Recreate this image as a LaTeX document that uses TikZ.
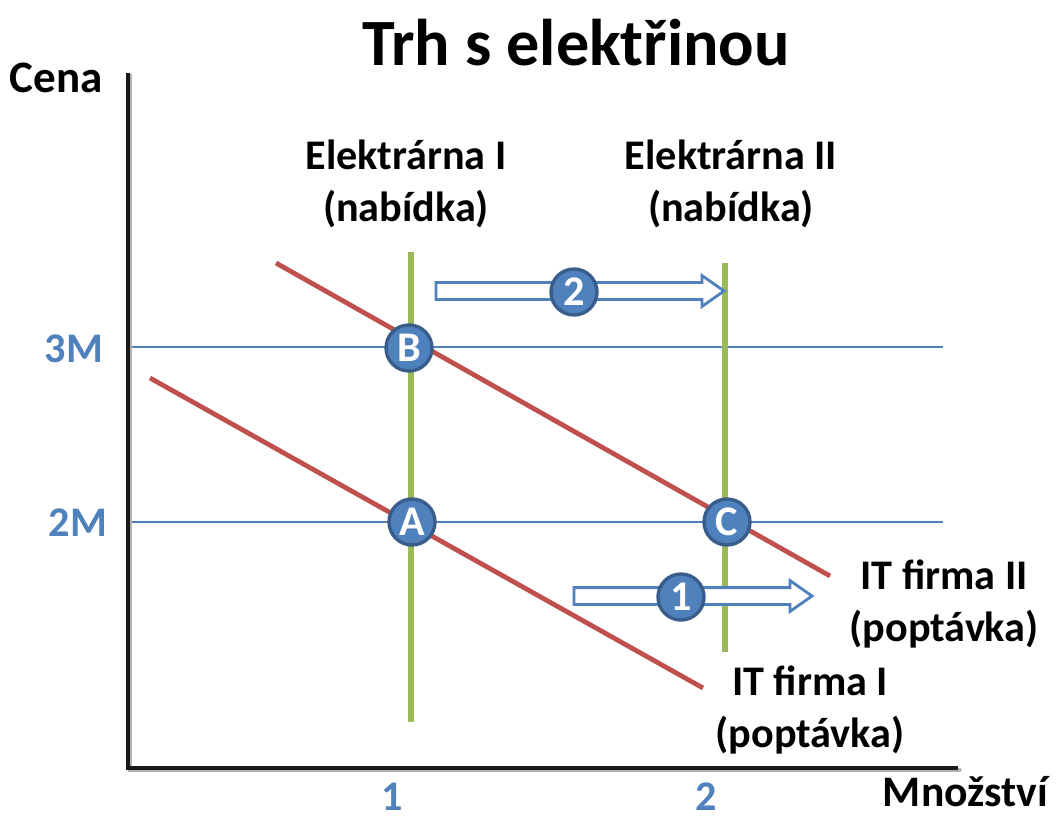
\documentclass[tikz,border=0pt]{standalone}
\usepackage{fontspec}
\setmainfont{Carlito}
\usetikzlibrary{shapes.arrows}
\definecolor{levelblue}{HTML}{4F81BD}
\definecolor{pointedge}{HTML}{385D8A}
\definecolor{supplygreen}{HTML}{9BBB59}
\definecolor{demandred}{HTML}{C0504D}

\begin{document}
\begin{tikzpicture}[x=0.025cm,y=-0.025cm,
  point/.style={circle,fill=levelblue,draw=pointedge,line width=2.4pt,
    minimum size=1.15cm,inner sep=0pt,text=white,
    font=\fontsize{30}{30}\selectfont\bfseries},
  shift arrow/.style={single arrow,draw=levelblue,fill=white,line width=2pt,
    inner sep=0pt,inner ysep=0.175cm,single arrow head extend=0.175cm,
    single arrow tip angle=70,single arrow head indent=0pt},
  curvelabel/.style={align=center,font=\fontsize{30}{37}\selectfont\bfseries},
  ticklabel/.style={text=levelblue,font=\fontsize{30}{36}\selectfont\bfseries},
  supply/.style={supplygreen,line width=4.3pt},
  demand/.style={demandred,line width=3.4pt},
  level/.style={levelblue,line width=0.9pt}]
  % Configurable parameters (pixel units)
  \def\xone{411}      % Elektrarna I
  \def\xtwo{725}      % Elektrarna II
  \def\ythree{347}    % 3M
  \def\ytwo{522}      % 2M
  %
  \useasboundingbox (0,0) rectangle (1058,820);
  %
  % Title and axis names
  \node[font=\fontsize{47}{47}\selectfont\bfseries] (title) at (576,43) {Trh s elektřinou};
  \node[font=\fontsize{32}{32}\selectfont\bfseries] (cena) at (56,78) {Cena};
  \node[font=\fontsize{31}{31}\selectfont\bfseries,anchor=east,inner sep=0pt] (mnozstvi) at (1048,792) {Množství};
  %
  % Price levels
  \coordinate (l3a) at (128,\ythree);
  \coordinate (l3b) at (943,\ythree);
  \coordinate (l2a) at (128,\ytwo);
  \coordinate (l2b) at (943,\ytwo);
  \draw[level] (l3a) -- (l3b);
  \draw[level] (l2a) -- (l2b);
  \node[ticklabel] (t3) at (74,349) {3M};
  \node[ticklabel] (t2) at (78,523) {2M};
  \node[ticklabel] (q1) at (392,797) {1};
  \node[ticklabel] (q2) at (706,797) {2};
  %
  % Axes
  \coordinate (origin) at (128,768);
  \coordinate (ytop) at (128,73);
  \coordinate (xend) at (958,768);
  \draw[black!30,line width=2.2pt,line cap=round] ([shift={(2,2)}]ytop) -- ([shift={(2,2)}]origin) -- ([shift={(2,2)}]xend);
  \draw[black!90,line width=2.2pt] (ytop) -- (origin) -- (xend);
  %
  % Supply (vertical)
  \coordinate (s1top) at (\xone,252);
  \coordinate (s1bot) at (\xone,722);
  \coordinate (s2top) at (\xtwo,263);
  \coordinate (s2bot) at (\xtwo,652);
  \draw[supply] (s1top) -- (s1bot);
  \draw[supply] (s2top) -- (s2bot);
  %
  % Demand (downward)
  \coordinate (d1top) at (150,378);
  \coordinate (d1bot) at (703,688);
  \coordinate (d2top) at (276,263);
  \coordinate (d2bot) at (830,576);
  \draw[demand] (d1top) -- (d1bot);
  \draw[demand] (d2top) -- (d2bot);
  %
  % Curve labels
  \node[curvelabel] (el1) at (406,184) {Elektrárna I\\(nabídka)};
  \node[curvelabel] (el2) at (731,184) {Elektrárna II\\(nabídka)};
  \node[curvelabel] (it2) at (944,604) {IT firma II\\(poptávka)};
  \node[curvelabel] (it1) at (810,710) {IT firma I\\(poptávka)};
  %
  % Shifts
  \node[shift arrow,minimum height=7.2cm] (shift2) at (574,291) {};
  \node[shift arrow,minimum height=5.95cm] (shift1) at (687,596) {};
  \node[point] (n2) at (574,292) {2};
  \node[point] (n1) at (681,597) {1};
  %
  % Equilibria
  \node[point] (B) at (409,348) {B};
  \node[point] (A) at (412,522) {A};
  \node[point] (C) at (727,522) {C};
  %
\end{tikzpicture}
\end{document}
